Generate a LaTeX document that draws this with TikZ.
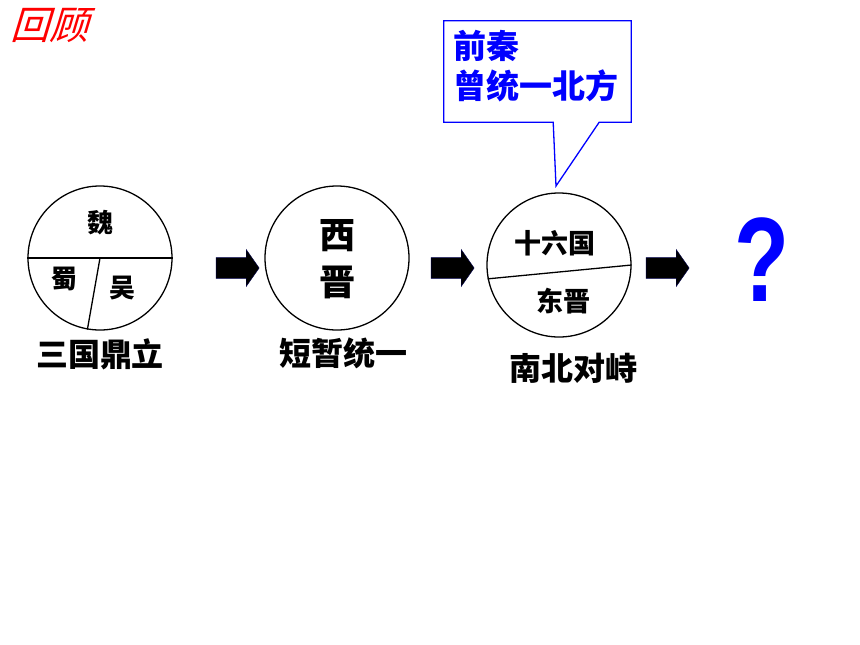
\documentclass[tikz,border=0pt]{standalone}
\usepackage{fontspec}
\setmainfont{Noto Sans CJK SC}
\newfontfamily\qfont{Liberation Sans}
\newfontfamily\tfont[FakeSlant=0.3]{Noto Sans CJK SC}
\usetikzlibrary{shapes.arrows}
\newcommand{\fs}[1]{\fontsize{#1}{#1}\selectfont}
\tikzset{
  era/.style={circle, draw, line width=1.3pt, minimum size=144pt, inner sep=0pt},
  lbl/.style={font=\bfseries\fs{#1}, inner sep=0pt},
  blk/.style={single arrow, fill=black, draw=black!70!blue, minimum height=43pt,
    minimum width=37pt, inner xsep=0pt, inner ysep=9pt, single arrow tip angle=110}
}

\begin{document}
\begin{tikzpicture}[x=1pt, y=-1pt]
    \useasboundingbox[fill=white] (0,0) rectangle (860,645);
    \node[font=\tfont\fs{39}, text=red] (hg) at (49,26) {回顾};

    % Circulos
    \node[era] (sg) at (100,258) {};
    \node[era] (xj) at (337,258) {};
    \node[era] (nb) at (559,265) {};

    % Divisiones
    \draw[line width=1.3pt] (sg.west) -- (sg.east);
    \draw[line width=1.3pt] (sg.center) -- (sg.260);
    \draw[line width=1.3pt] (nb.191) -- (nb.0);

    % Nombres
    \node[lbl=26] (wei) at (100,223) {魏};
    \node[lbl=26] (shu) at (64,279) {蜀};
    \node[lbl=26] (wu) at (122,288) {吴};
    \node[lbl=36] (xi) at (337,236) {西};
    \node[lbl=36] (jin) at (337,282) {晋};
    \node[lbl=27] (sl) at (555,243) {十六国};
    \node[lbl=27] (dj) at (563,301) {东晋};

    \node[lbl=32] (t1) at (100,354) {三国鼎立};
    \node[lbl=32] (t2) at (343,353) {短暂统一};
    \node[lbl=32] (t3) at (573,368) {南北对峙};

    % Flechas
    \node[blk] (f1) at (234,268) {};
    \node[blk] (f2) at (449,268) {};
    \node[blk] (f3) at (664,268) {};
    \node[font=\qfont\bfseries\fs{120}, text=blue, xscale=0.75, inner sep=0pt] (q) at (762,260) {?};

    % Globo
    \node[minimum width=187pt, minimum height=101pt, inner sep=0pt] (box) at (537.5,71.5) {};
    \coordinate (tip) at (556,186);
    \draw[blue, line width=1.3pt, fill=white] (box.north west) -- (box.north east) -- (box.south east)
      -- ([xshift=-32pt]box.south east) -- (tip) -- ([xshift=-78pt]box.south east)
      -- (box.south west) -- cycle;
    \node[lbl=33, text=blue, align=left, anchor=west] (qin) at (453,46) {前秦};
    \node[lbl=33, text=blue, align=left, anchor=west] (bf) at (453,86) {曾统一北方};
\end{tikzpicture}
\end{document}
